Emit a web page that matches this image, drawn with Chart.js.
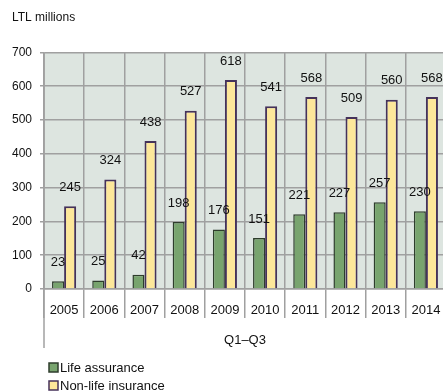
<!DOCTYPE html>
<html>
<head>
<meta charset="utf-8">
<script src="https://cdn.jsdelivr.net/npm/chart.js@4.4.1/dist/chart.umd.min.js"></script>
<style>
html,body{margin:0;padding:0;background:#fff;overflow:hidden;}
#wrap{width:446px;height:391px;position:relative;}
</style>
</head>
<body>
<div id="wrap"><canvas id="c" width="446" height="391"></canvas></div>
<script>
const categories = ['2005','2006','2007','2008','2009','2010','2011','2012','2013','2014'];
const lifeAssurance = [23, 25, 42, 198, 176, 151, 221, 227, 257, 230];
const nonLifeInsurance = [245, 324, 438, 527, 618, 541, 568, 509, 560, 568];
const seriesNames = ['Life assurance', 'Non-life insurance'];
const yTicks = [0, 100, 200, 300, 400, 500, 600, 700];
const unitLabel = 'LTL millions';
const periodLabel = 'Q1–Q3';

const FONT = 'Liberation Sans, Arial, sans-serif';
const TEXT = '#111111';

const bgPlugin = {
  id: 'bg',
  beforeDraw(chart) {
    const {ctx, chartArea: a} = chart;
    ctx.save();
    ctx.fillStyle = '#dde5e0';
    ctx.fillRect(a.left, a.top, a.right - a.left, a.bottom - a.top);
    ctx.restore();
  }
};

const labelPlugin = {
  id: 'vals',
  afterDatasetsDraw(chart) {
    const ctx = chart.ctx;
    ctx.save();
    ctx.font = '13px ' + FONT;
    ctx.fillStyle = TEXT;
    ctx.textAlign = 'center';
    ctx.textBaseline = 'middle';
    chart.data.datasets.forEach((ds, di) => {
      const meta = chart.getDatasetMeta(di);
      meta.data.forEach((bar, i) => {
        ctx.fillText(String(ds.data[i]), bar.x, bar.y - 19);
      });
    });
    ctx.restore();
  }
};

const extraPlugin = {
  id: 'extra',
  afterDraw(chart) {
    const ctx = chart.ctx;
    const x = chart.scales.x;
    ctx.save();
    ctx.strokeStyle = '#a0a0a0';
    ctx.lineWidth = 1.5;
    ctx.beginPath();
    ctx.moveTo(x.left, chart.chartArea.top);
    ctx.lineTo(x.left, 348);
    ctx.stroke();
    ctx.font = '13px ' + FONT;
    ctx.textBaseline = 'middle';
    ctx.textAlign = 'left';
    chart.data.datasets.forEach((ds, i) => {
      const cy = 367 + i * 18;
      ctx.fillStyle = ds.backgroundColor;
      ctx.strokeStyle = ds.borderColor;
      ctx.lineWidth = 1.5;
      ctx.fillRect(49, cy - 4, 9, 9);
      ctx.strokeRect(49, cy - 4, 9, 9);
      ctx.fillStyle = TEXT;
      ctx.fillText(ds.label, 60, cy + 1);
    });
    ctx.restore();
  }
};

new Chart(document.getElementById('c'), {
  type: 'bar',
  data: {
    labels: categories,
    datasets: [
      { label: seriesNames[0], data: lifeAssurance, backgroundColor: '#78a46e', borderColor: '#2e3d2c', borderWidth: 1.5, categoryPercentage: 0.6, barPercentage: 1.0 },
      { label: seriesNames[1], data: nonLifeInsurance, backgroundColor: '#fde79a', borderColor: '#45325a', borderWidth: 2, categoryPercentage: 0.6, barPercentage: 1.0 }
    ]
  },
  options: {
    responsive: false,
    animation: false,
    devicePixelRatio: 1,
    layout: { padding: { left: 12, right: 0, top: 6, bottom: 41 } },
    plugins: {
      legend: { display: false },
      tooltip: { enabled: false },
      title: {
        display: true, text: unitLabel, align: 'start',
        color: TEXT, font: { family: FONT, size: 12, weight: 'normal' },
        padding: { top: 4, bottom: 28 }
      }
    },
    scales: {
      x: {
        offset: true,
        afterFit(s) { s.height = 61; },
        grid: { display: true, offset: true, color: '#a0a0a0', lineWidth: 1.5, tickLength: 29, tickColor: '#a0a0a0' },
        border: { display: true, color: '#a0a0a0', width: 1.5 },
        ticks: { color: TEXT, font: { family: FONT, size: 13 }, padding: -15, maxRotation: 0 },
        title: { display: true, text: periodLabel, color: TEXT, font: { family: FONT, size: 13 }, padding: { top: 0, bottom: 2 } }
      },
      y: {
        min: 0, max: 700,
        afterBuildTicks(s) { s.ticks = yTicks.map(v => ({ value: v })); },
        afterFit(s) { s.width = 32; },
        grid: { color: '#a0a0a0', lineWidth: 1.5, tickLength: 4, tickColor: '#a0a0a0' },
        border: { display: true, color: '#a0a0a0', width: 1.5 },
        ticks: { color: TEXT, font: { family: FONT, size: 12 }, padding: 8 }
      }
    }
  },
  plugins: [bgPlugin, labelPlugin, extraPlugin]
});
</script>
</body>
</html>
